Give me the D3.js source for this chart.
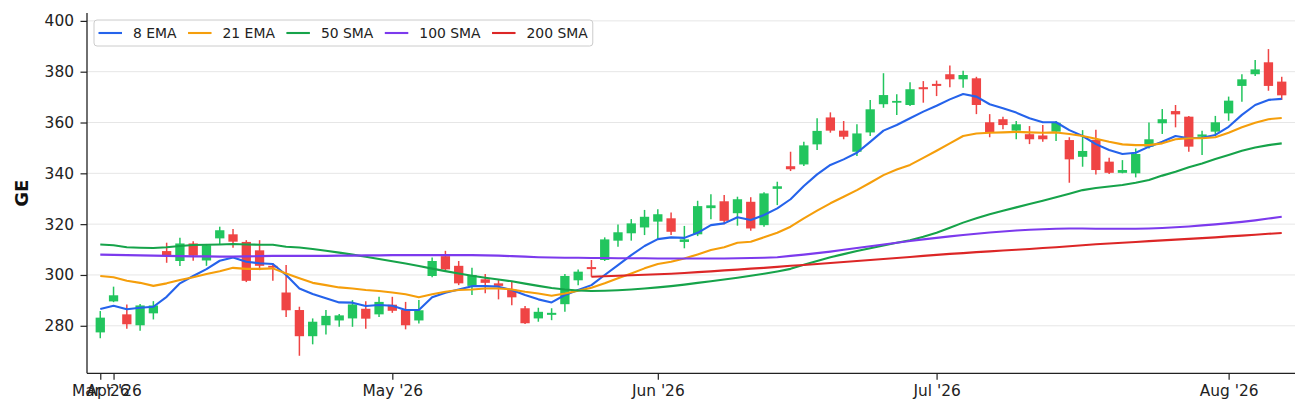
<!DOCTYPE html>
<html>
<head>
<meta charset="utf-8">
<script src="https://cdn.jsdelivr.net/npm/d3@7"></script>
<style>
  html, body { margin: 0; padding: 0; background: #fff; }
  svg { display: block; font-family: "DejaVu Sans", sans-serif; }
</style>
</head>
<body>
<div id="chart"></div>
<script>
// trading days shown (weekdays, market holidays removed)
const firstDay = "2026-03-31", lastDay = "2026-08-07";
const holidays = ["2026-04-03", "2026-05-25", "2026-06-19", "2026-07-03"];

const openP = [277.4, 289.6, 284.5, 280.2, 284.9, 309.4, 305.5, 312.4, 305.7, 314.4,
  316.0, 313.0, 309.7, 303.6, 293.1, 286.2, 275.9, 280.2, 282.1, 282.9,
  286.7, 284.5, 288.3, 286.2, 282.1, 299.6, 307.4, 303.6, 295.7, 298.3,
  296.7, 294.3, 286.9, 282.9, 284.3, 288.5, 297.9, 303.1, 305.9, 313.5,
  316.4, 318.7, 321.0, 322.3, 313.0, 316.0, 326.3, 329.0, 324.3, 328.8,
  319.6, 333.9, 342.8, 343.5, 351.4, 362.0, 356.8, 348.5, 356.1, 367.2,
  367.8, 366.9, 373.9, 375.2, 379.0, 377.0, 377.4, 360.1, 361.3, 356.8,
  355.4, 354.9, 356.4, 353.1, 346.5, 353.2, 344.6, 340.2, 340.0, 350.5,
  359.7, 364.5, 362.3, 354.4, 356.4, 363.6, 374.4, 379.0, 383.7, 376.1];
const highP = [285.8, 295.4, 288.4, 288.6, 289.7, 312.7, 314.6, 313.3, 312.2, 319.0,
  318.1, 313.7, 313.7, 304.6, 303.9, 287.5, 282.9, 286.2, 284.6, 290.1,
  289.7, 291.4, 291.4, 289.4, 290.1, 306.9, 309.5, 305.5, 302.8, 300.4,
  298.0, 297.3, 287.8, 287.1, 286.9, 300.4, 302.2, 305.9, 314.8, 319.9,
  322.0, 325.6, 325.9, 324.6, 319.3, 329.2, 331.8, 331.5, 330.8, 330.6,
  332.6, 336.7, 348.5, 352.4, 361.7, 364.0, 360.6, 359.3, 368.9, 379.4,
  371.1, 375.8, 376.3, 376.5, 382.4, 380.4, 378.0, 363.3, 362.3, 360.6,
  358.6, 359.0, 360.6, 354.2, 357.0, 357.2, 346.1, 345.2, 349.8, 360.0,
  365.3, 366.9, 362.6, 356.8, 362.6, 370.2, 379.0, 384.6, 388.9, 378.0];
const lowP = [275.1, 289.3, 278.8, 278.0, 282.5, 304.8, 303.5, 305.6, 303.6, 312.2,
  310.7, 297.2, 301.9, 297.7, 283.5, 268.2, 272.7, 276.6, 279.6, 279.6,
  278.8, 283.5, 285.1, 278.6, 280.9, 299.1, 301.9, 296.0, 292.1, 292.8,
  290.4, 288.1, 280.7, 281.6, 282.2, 285.5, 296.0, 299.3, 305.5, 311.1,
  313.5, 315.7, 314.0, 315.7, 310.5, 315.3, 321.9, 320.0, 319.4, 317.4,
  319.0, 327.5, 340.9, 342.9, 349.2, 356.0, 353.4, 346.8, 354.7, 365.8,
  363.0, 366.5, 367.8, 370.4, 373.9, 373.7, 363.3, 354.2, 357.3, 353.4,
  351.5, 352.4, 352.7, 336.3, 342.6, 339.5, 339.7, 340.0, 338.4, 349.8,
  355.5, 358.1, 348.5, 347.2, 354.7, 360.7, 368.2, 378.3, 372.5, 368.9];
const closeP = [283.2, 292.0, 280.6, 288.0, 288.0, 307.6, 312.4, 307.6, 311.7, 317.6,
  313.1, 297.7, 303.6, 302.9, 286.1, 275.9, 281.6, 283.9, 284.1, 288.4,
  282.8, 289.4, 285.9, 280.2, 286.1, 305.5, 302.2, 296.7, 300.0, 296.9,
  295.7, 291.2, 281.0, 285.5, 285.1, 299.6, 301.3, 302.3, 314.0, 316.8,
  320.3, 322.9, 323.9, 317.0, 314.0, 327.1, 327.4, 321.3, 329.8, 318.3,
  332.1, 334.9, 341.6, 351.0, 356.7, 356.8, 354.4, 355.7, 365.2, 370.8,
  368.5, 373.1, 373.1, 374.4, 377.0, 378.7, 366.9, 356.1, 359.0, 359.3,
  353.4, 353.4, 359.9, 345.5, 348.8, 341.3, 340.2, 341.3, 347.6, 353.4,
  361.3, 363.2, 350.5, 355.3, 360.1, 368.6, 377.0, 380.9, 374.4, 370.7];

const ema8 = [286.6, 287.9, 286.5, 287.1, 287.5, 291.4, 296.7, 299.6, 302.3, 305.6,
  306.9, 305.2, 304.6, 304.3, 300.0, 294.7, 292.5, 290.8, 289.2, 289.1,
  287.8, 288.2, 287.9, 286.2, 286.2, 291.2, 293.0, 294.3, 295.6, 295.6,
  295.4, 294.1, 292.1, 290.4, 289.2, 292.1, 294.1, 296.0, 300.0, 303.9,
  307.8, 311.4, 314.1, 314.8, 314.6, 316.6, 319.6, 320.3, 322.7, 321.6,
  323.6, 326.2, 329.8, 335.0, 339.6, 343.3, 345.5, 348.1, 352.4, 356.8,
  359.0, 361.7, 364.3, 366.6, 369.1, 371.2, 370.2, 367.2, 365.6, 363.9,
  361.7, 360.1, 360.1, 357.0, 354.7, 351.5, 349.2, 347.6, 348.1, 350.5,
  352.4, 354.7, 353.8, 354.0, 355.1, 358.3, 363.0, 366.9, 368.9, 369.3];
const ema21 = [299.6, 299.1, 297.7, 296.9, 295.7, 296.7, 298.0, 299.1, 300.4, 301.5,
  302.8, 302.4, 302.4, 302.6, 300.6, 298.7, 296.9, 296.0, 295.1, 294.7,
  294.1, 293.7, 293.1, 292.4, 291.2, 292.4, 293.4, 294.1, 294.3, 294.7,
  294.7, 294.3, 293.4, 292.7, 291.8, 292.7, 293.8, 295.0, 296.7, 298.7,
  300.6, 302.6, 304.3, 305.2, 306.5, 308.1, 309.8, 310.9, 312.7, 313.1,
  314.8, 316.6, 319.0, 322.3, 325.3, 328.2, 330.8, 333.4, 336.3, 339.3,
  341.5, 343.3, 346.1, 348.9, 351.8, 354.7, 355.7, 356.0, 356.1, 356.3,
  356.1, 356.0, 356.1, 355.5, 354.7, 353.6, 352.4, 351.4, 351.1, 351.1,
  351.8, 353.4, 353.8, 353.8, 354.2, 356.0, 358.1, 359.9, 361.3, 361.8];
const sma50 = [312.0, 311.7, 310.9, 310.7, 310.6, 310.9, 311.4, 311.8, 311.9, 312.0,
  312.2, 312.0, 311.9, 311.9, 311.1, 310.8, 310.2, 309.5, 308.8, 308.0,
  307.2, 306.3, 305.4, 304.5, 303.5, 302.5, 301.5, 300.6, 299.7, 298.9,
  298.2, 297.5, 296.6, 295.7, 294.9, 294.3, 293.9, 293.7, 293.8, 294.0,
  294.3, 294.7, 295.1, 295.6, 296.2, 296.9, 297.5, 298.2, 298.9, 299.7,
  300.5, 301.4, 302.4, 304.0, 305.5, 307.0, 308.2, 309.4, 310.5, 311.6,
  312.7, 313.7, 315.0, 316.6, 318.6, 320.6, 322.3, 323.9, 325.3, 326.6,
  327.9, 329.2, 330.6, 332.0, 333.4, 334.2, 334.8, 335.4, 336.3, 337.4,
  339.1, 340.6, 342.4, 343.9, 345.6, 347.2, 348.9, 350.2, 351.1, 351.8];
const sma100 = [308.0, 307.9, 307.8, 307.7, 307.6, 307.5, 307.4, 307.3, 307.3, 307.2,
  307.2, 307.3, 307.4, 307.5, 307.5, 307.5, 307.5, 307.5, 307.6, 307.6,
  307.7, 307.7, 307.8, 307.8, 307.8, 307.8, 307.8, 307.8, 307.8, 307.7,
  307.6, 307.4, 307.2, 307.0, 306.9, 306.8, 306.8, 306.7, 306.7, 306.6,
  306.6, 306.6, 306.5, 306.5, 306.5, 306.5, 306.5, 306.5, 306.6, 306.7,
  306.8, 307.0, 307.5, 308.0, 308.6, 309.2, 309.9, 310.6, 311.3, 312.0,
  312.7, 313.4, 314.0, 314.6, 315.2, 315.7, 316.2, 316.7, 317.1, 317.5,
  317.8, 318.0, 318.2, 318.3, 318.3, 318.2, 318.2, 318.2, 318.2, 318.3,
  318.5, 318.8, 319.1, 319.5, 319.9, 320.4, 320.9, 321.5, 322.2, 322.9];
// 200 SMA only exists from the 38th bar on
const sma200 = Array(37).fill(null).concat([
  299.3, 299.5, 299.7, 299.9, 300.1, 300.3, 300.5, 300.8, 301.1, 301.4,
  301.8, 302.1, 302.5, 302.8, 303.2, 303.6, 303.9, 304.3, 304.7, 305.1,
  305.5, 305.9, 306.3, 306.7, 307.1, 307.5, 307.9, 308.3, 308.6, 309.0,
  309.3, 309.6, 309.9, 310.2, 310.6, 310.9, 311.3, 311.7, 312.1, 312.4,
  312.7, 313.0, 313.3, 313.6, 313.9, 314.2, 314.5, 314.8, 315.2, 315.5,
  315.8, 316.2, 316.5]);

const maNames = ["8 EMA", "21 EMA", "50 SMA", "100 SMA", "200 SMA"];
const maSeries = [ema8, ema21, sma50, sma100, sma200];
const maColors = ["#2563eb", "#f59e0b", "#16a34a", "#7c3aed", "#dc2626"];
const yTicks = [280, 300, 320, 340, 360, 380, 400];
const ticker = "GE";

const parse = d3.utcParse("%Y-%m-%d");
const fmtKey = d3.utcFormat("%Y-%m-%d");
const dates = d3.utcDay.range(parse(firstDay), d3.utcDay.offset(parse(lastDay), 1))
  .filter(d => d.getUTCDay() !== 0 && d.getUTCDay() !== 6 && !holidays.includes(fmtKey(d)));

const candles = dates.map((d, i) => ({
  i: i, date: d, open: openP[i], high: highP[i], low: lowP[i], close: closeP[i]
}));

// first bar of every month gets a tick
const monthTicks = candles.filter((d, i) => i === 0 ||
  d.date.getUTCMonth() !== candles[i - 1].date.getUTCMonth()).map(d => d.i);
const fmtMonth = d3.utcFormat("%b '%y");

const W = 1308, H = 415;
const pLeft = 87, pRight = 1295, pTop = 13, pBottom = 373.3;

const svg = d3.select("#chart").append("svg")
  .attr("width", W).attr("height", H);

const x = d3.scaleLinear().domain([-1, candles.length]).range([pLeft, pRight]);
const y = d3.scaleLinear().domain([261.3, 403.1]).range([pBottom, pTop]);

// grid
svg.append("g").selectAll("line")
  .data(yTicks).enter().append("line")
  .attr("x1", pLeft).attr("x2", pRight)
  .attr("y1", d => y(d)).attr("y2", d => y(d))
  .attr("stroke", "#e6e6e6").attr("stroke-width", 1);

// candles
const bw = (x(1) - x(0)) * 0.7;
const upCol = "#22c55e", downCol = "#ef4444";
const cg = svg.append("g");
cg.selectAll(".wick").data(candles).enter().append("line")
  .attr("class", "wick")
  .attr("x1", d => x(d.i)).attr("x2", d => x(d.i))
  .attr("y1", d => y(d.high)).attr("y2", d => y(d.low))
  .attr("stroke", d => d.close >= d.open ? upCol : downCol)
  .attr("stroke-width", 1.5);
cg.selectAll(".body").data(candles).enter().append("rect")
  .attr("class", "body")
  .attr("x", d => x(d.i) - bw / 2)
  .attr("width", bw)
  .attr("y", d => y(Math.max(d.open, d.close)))
  .attr("height", d => Math.max(1.5, Math.abs(y(d.open) - y(d.close))))
  .attr("fill", d => d.close >= d.open ? upCol : downCol);

// moving averages
const line = d3.line()
  .defined(d => d != null)
  .x((d, i) => x(i))
  .y(d => y(d));
svg.append("g").selectAll("path")
  .data(maSeries).enter().append("path")
  .attr("d", d => line(d))
  .attr("fill", "none")
  .attr("stroke", (d, k) => maColors[k])
  .attr("stroke-width", 2.1)
  .attr("stroke-linejoin", "round");

// axes
const yAxis = svg.append("g")
  .attr("transform", `translate(${pLeft},0)`)
  .call(d3.axisLeft(y).tickValues(yTicks).tickSize(6.5).tickPadding(6.5).tickSizeOuter(0));
const xAxis = svg.append("g")
  .attr("transform", `translate(0,${pBottom})`)
  .call(d3.axisBottom(x).tickValues(monthTicks)
    .tickFormat(i => fmtMonth(candles[i].date))
    .tickSize(6.5).tickPadding(5.5).tickSizeOuter(0));
[xAxis, yAxis].forEach(a => {
  a.selectAll("text").style("font-size", "15.4px").attr("fill", "#222")
    .style("font-family", "DejaVu Sans");
  a.selectAll("line").attr("stroke", "#222").attr("stroke-width", 1.2);
  a.select(".domain").attr("stroke", "#222").attr("stroke-width", 1.3);
});
// extend the spines to the full plot box
yAxis.select(".domain").attr("d", `M0,${pBottom}V${pTop}`);
xAxis.select(".domain").attr("d", `M${pLeft},0H${pRight}`);

// y label
svg.append("text")
  .attr("transform", `translate(28,${(pTop + pBottom) / 2}) rotate(-90)`)
  .attr("text-anchor", "middle")
  .style("font-size", "18px").style("font-weight", "bold")
  .attr("fill", "#111")
  .text(ticker);

// legend
const lg = svg.append("g").attr("transform", "translate(94,20)");
const lgBox = lg.append("rect")
  .attr("rx", 3).attr("height", 26)
  .attr("fill", "#fff").attr("fill-opacity", 0.85)
  .attr("stroke", "#cccccc").attr("stroke-width", 1);
let cx = 4.5;
maNames.forEach((name, k) => {
  lg.append("line")
    .attr("x1", cx).attr("x2", cx + 23.5)
    .attr("y1", 13).attr("y2", 13)
    .attr("stroke", maColors[k]).attr("stroke-width", 2.1);
  const t = lg.append("text")
    .attr("x", cx + 34.5).attr("y", 13).attr("dy", "0.35em")
    .style("font-size", "13.9px").attr("fill", "#222")
    .text(name);
  cx += 34.5 + t.node().getComputedTextLength() + 11.5;
});
lgBox.attr("width", cx - 6.5);
</script>
</body>
</html>
